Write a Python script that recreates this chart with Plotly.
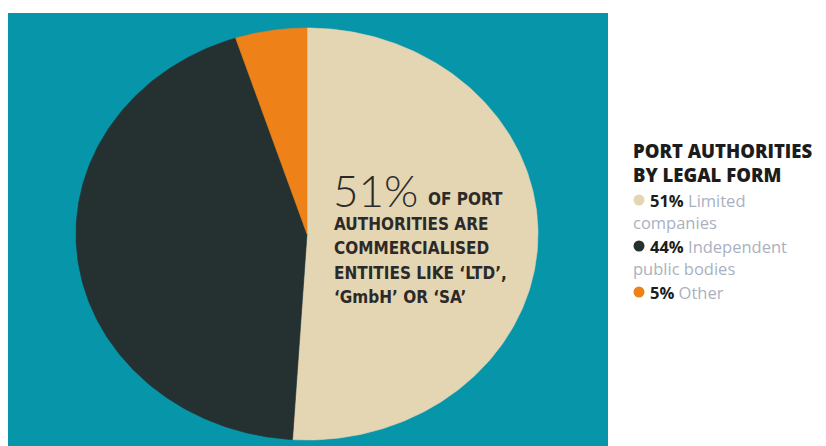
import numpy as np
import plotly.graph_objects as go

# Legal form of port authorities (share, %)
labels = ["Limited companies", "Independent public bodies", "Other"]
values = [51, 44, 5]
colors = ["#e4d5b3", "#253130", "#ee8219"]
legend_first = ["Limited", "Independent", "Other"]
legend_second = ["companies", "public bodies", ""]

W, H = 826, 446
TEAL = "#0795a9"

# ellipse geometry of the pie (pixel space)
cx, cy, rx, ry = 307, 234, 231, 206

fig = go.Figure()

total = sum(values)
start = 0.0
for lab, val, col in zip(labels, values, colors):
    sweep = 360.0 * val / total
    t = np.radians(np.linspace(start, start + sweep, 200))
    xs = np.concatenate([[cx], cx + rx * np.sin(t), [cx]])
    ys = np.concatenate([[cy], cy - ry * np.cos(t), [cy]])
    fig.add_trace(go.Scatter(
        x=xs, y=ys, mode="lines", fill="toself", fillcolor=col,
        line=dict(color=col, width=0.6), name=lab, hoverinfo="name",
        showlegend=False,
    ))
    start += sweep

fig.add_shape(type="rect", xref="x", yref="y", x0=8, x1=608, y0=13, y1=H,
              fillcolor=TEAL, line_width=0, layer="below")

NARROW = "Liberation Sans Narrow, DejaVu Sans Condensed, Roboto, sans-serif"
TXT = "#2b2a28"

# headline inside the largest slice
fig.add_annotation(x=331, y=190, xref="x", yref="y", text=f"{values[0]}%",
                   showarrow=False, xanchor="left", yanchor="middle",
                   font=dict(family="Lato, Roboto, sans-serif", size=44,
                             color=TXT, weight=300))
fig.add_annotation(x=426, y=199, xref="x", yref="y", text="<b>OF PORT</b>",
                   showarrow=False, xanchor="left", yanchor="middle",
                   font=dict(family=NARROW, size=17, color=TXT))
body = ["AUTHORITIES ARE", "COMMERCIALISED",
        "ENTITIES LIKE \u2018LTD\u2019,", "\u2018GmbH\u2019 OR \u2018SA\u2019"]
for i, line in enumerate(body):
    fig.add_annotation(x=332, y=223.5 + 24.5 * i, xref="x", yref="y",
                       text=f"<b>{line}</b>", showarrow=False,
                       xanchor="left", yanchor="middle",
                       font=dict(family=NARROW, size=17, color=TXT))

# side key
fig.add_annotation(x=631, y=162.5, xref="x", yref="y",
                   text="PORT AUTHORITIES<br>BY LEGAL FORM", showarrow=False,
                   xanchor="left", yanchor="middle", align="left",
                   font=dict(family="Open Sans, Lato, sans-serif", size=18.5,
                             color="#1c1c1c", weight=800))

LIGHT = "#a9b1c1"
ITEM_FONT = dict(family="Open Sans, Lato, sans-serif", size=16.5, color=LIGHT)
key_x, key_y = [], []
y = 200
for val, col, first, second in zip(values, colors, legend_first, legend_second):
    key_x.append(639)
    key_y.append(y)
    txt = f"<b><span style='color:#1c1c1c'>{val}%</span></b> {first}"
    fig.add_annotation(x=648, y=y, xref="x", yref="y", text=txt,
                       showarrow=False, xanchor="left", yanchor="middle",
                       font=ITEM_FONT)
    y += 22.5
    if second:
        fig.add_annotation(x=631, y=y, xref="x", yref="y", text=second,
                           showarrow=False, xanchor="left", yanchor="middle",
                           font=ITEM_FONT)
        y += 23.5

# coloured key dots
fig.add_trace(go.Scatter(x=key_x, y=key_y, mode="markers",
                         marker=dict(color=colors, size=11, line_width=0),
                         hoverinfo="skip", showlegend=False))

fig.update_xaxes(range=[0, W], visible=False, fixedrange=True)
fig.update_yaxes(range=[H, 0], visible=False, fixedrange=True)
fig.update_layout(width=W, height=H, margin=dict(l=0, r=0, t=0, b=0),
                  paper_bgcolor="white", plot_bgcolor="white",
                  showlegend=False)

fig.write_html("out.html", config={"displayModeBar": False})
